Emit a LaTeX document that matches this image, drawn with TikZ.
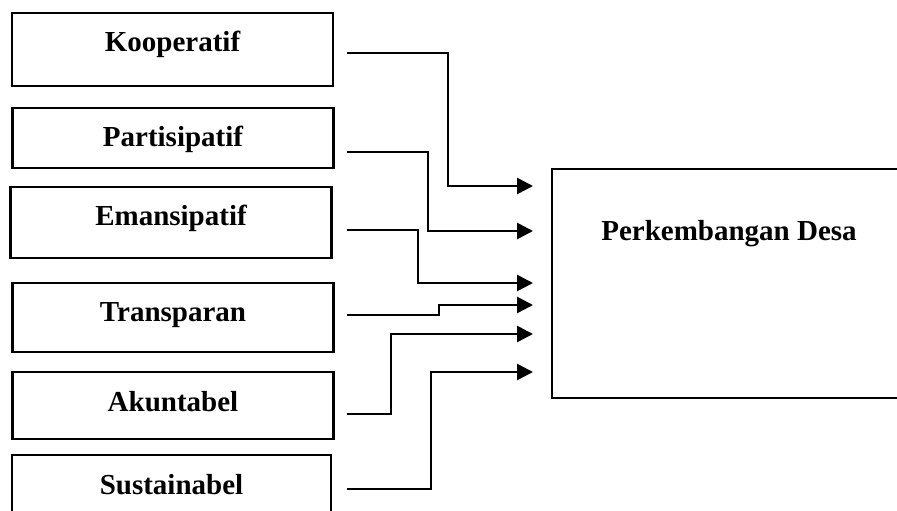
\documentclass[tikz,border=0pt]{standalone}
\usepackage{fontspec}
\setmainfont{Liberation Serif}
\usetikzlibrary{arrows.meta}
\begin{document}
\begin{tikzpicture}[x=1pt,y=-1pt,
  factor/.style={draw, line width=2.4pt, inner sep=0pt, anchor=base,
    minimum width=321pt, font=\fontsize{29}{34}\selectfont\bfseries},
  conn/.style={line width=2.7pt, -{Triangle[length=16pt,width=16pt]}}]
\useasboundingbox (0,0) rectangle (897,511);
\clip (0,0) rectangle (897,511);

% factor boxes, text baseline placed via text height/depth
\node[factor, text height=39pt, text depth=34pt] (koop) at (172.5,52) {Kooperatif};
\node[factor, text height=38pt, text depth=22pt] (part) at (173,146) {Partisipatif};
\node[factor, text height=38pt, text depth=33pt] (eman) at (171,225) {Emansipatif};
\node[factor, text height=38pt, text depth=31pt] (tran) at (173,321) {Transparan};
\node[factor, text height=39pt, text depth=28pt] (akun) at (173,411) {Akuntabel};
\node[factor, text height=39pt, text depth=40pt, minimum width=319pt] (sust) at (171.5,494) {Sustainabel};

% outcome box
\node[factor, text height=71pt, text depth=158pt, minimum width=354pt] (desa) at (729,240) {Perkembangan Desa};

% connector start and end points
\coordinate (s1) at (347,53);
\coordinate (s2) at (347,152);
\coordinate (s3) at (347,230);
\coordinate (s4) at (347,315);
\coordinate (s5) at (347,414);
\coordinate (s6) at (347,489);
\coordinate (t1) at (533,186);
\coordinate (t2) at (533,231);
\coordinate (t3) at (533,283);
\coordinate (t4) at (533,305);
\coordinate (t5) at (533,334);
\coordinate (t6) at (533,372);

\draw[conn] (s1) -| (448,186) -- (t1);
\draw[conn] (s2) -| (428,231) -- (t2);
\draw[conn] (s3) -| (418,283) -- (t3);
\draw[conn] (s4) -| (439,305) -- (t4);
\draw[conn] (s5) -| (391,334) -- (t5);
\draw[conn] (s6) -| (431,372) -- (t6);
\end{tikzpicture}
\end{document}
